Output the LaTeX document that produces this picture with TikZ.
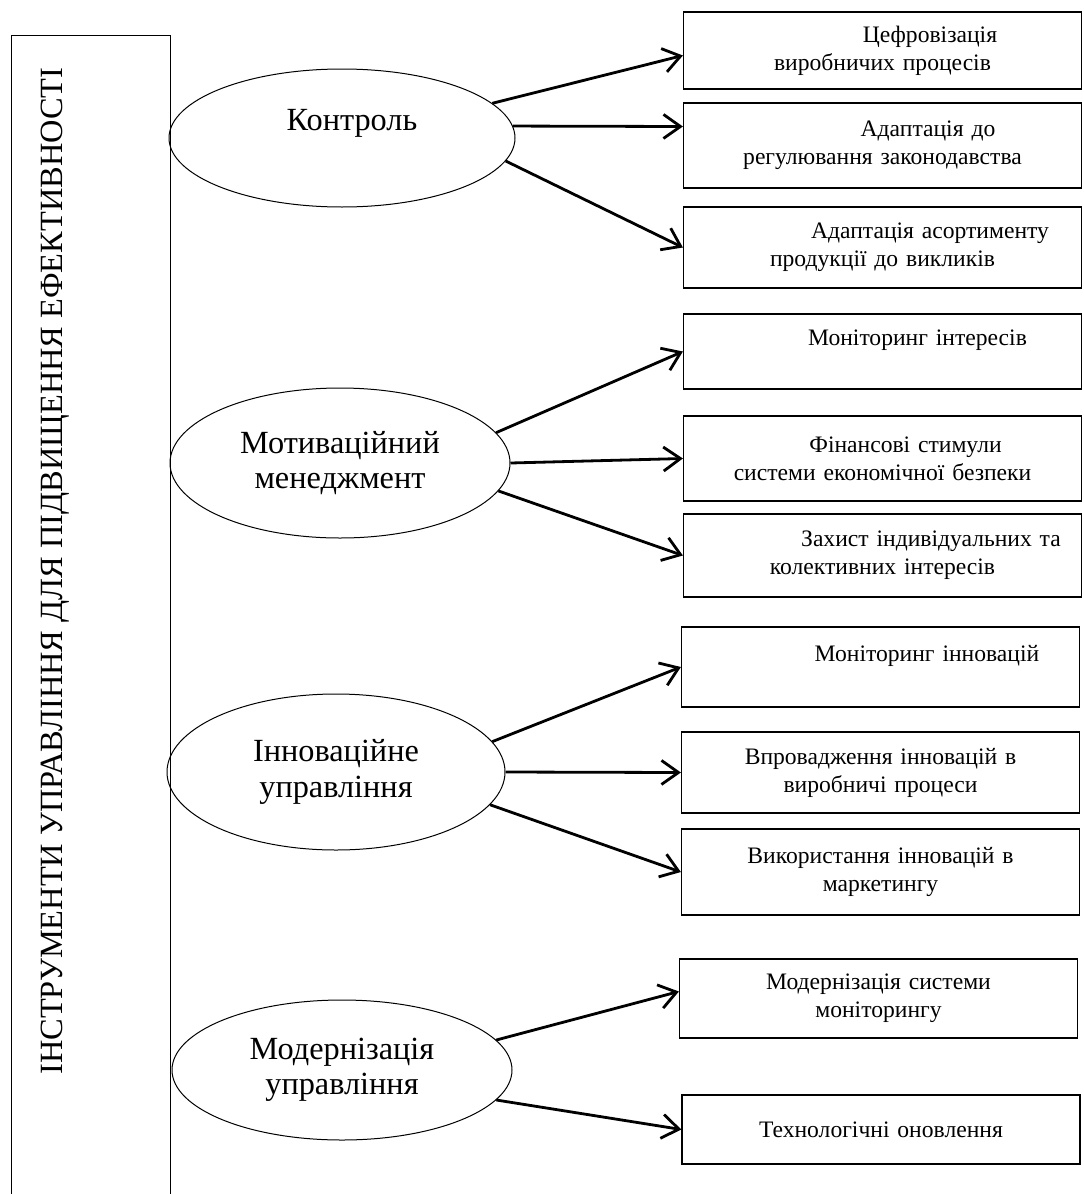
\documentclass[tikz,border=0pt]{standalone}
\usepackage{fontspec}
\setmainfont{Liberation Serif}
\usetikzlibrary{arrows.meta, shapes.geometric}

\begin{document}
\begin{tikzpicture}[x=1pt, y=-1pt,
	topic/.style={draw, ellipse, line width=1pt, align=center, inner sep=0pt, font=\fontsize{32.3}{35.5}\selectfont},
	item/.style={draw, rectangle, line width=1.2pt, minimum width=398pt, minimum height=80pt, text width=384pt, inner sep=0pt, align=center, font=\fontsize{23.6}{28}\selectfont},
	link/.style={-{Straight Barb[length=17pt, width=24pt]}, line width=2.8pt}]
\useasboundingbox (0,0) rectangle (1084,1194);

% Draw frame and title
\node[draw, line width=1.2pt, minimum width=159pt, minimum height=1220pt, anchor=north west] (frame) at (11,35) {};
\node[rotate=90, anchor=base, font=\fontsize{32.4}{36}\selectfont] (title) at (62,571) {ІНСТРУМЕНТИ УПРАВЛІННЯ ДЛЯ ПІДВИЩЕННЯ ЕФЕКТИВНОСТІ};

% Draw ellipses
\node[topic, minimum width=346pt, minimum height=138pt] (ctrl) at (342,138) {\hspace*{20pt}Контроль\\\mbox{}};
\node[topic, minimum width=340pt, minimum height=150pt] (motiv) at (340,463) {Мотиваційний\\менеджмент};
\node[topic, minimum width=338pt, minimum height=156pt] (innov) at (336,772) {Інноваційне\\управління};
\node[topic, minimum width=340pt, minimum height=140pt] (modern) at (342,1070) {Модернізація\\управління};

% Draw boxes
\node[item, minimum height=77pt] (digit) at (882.5,50.5) {\hspace*{95pt}Цефровізація\\виробничих процесів};
\node[item, minimum height=85pt] (law) at (882.5,145.5) {\hspace*{91pt}Адаптація до\\регулювання законодавства};
\node[item, minimum height=81pt] (range) at (882.5,247.5) {\hspace*{95pt}Адаптація асортименту\\продукції до викликів};
\node[item, minimum height=75pt] (monint) at (882.5,351.5) {\hspace*{70pt}Моніторинг інтересів\\\mbox{}};
\node[item, minimum height=85pt] (fin) at (882.5,458.5) {\hspace*{46pt}Фінансові стимули\\системи економічної безпеки};
\node[item, minimum height=83pt] (protect) at (882.5,555.5) {\hspace*{97pt}Захист індивідуальних та\\колективних інтересів};
\node[item, minimum height=80pt] (moninn) at (880.5,667) {\hspace*{93pt}Моніторинг інновацій\\\mbox{}};
\node[item, minimum height=81pt] (impl) at (880.5,772.5) {Впровадження інновацій в\\виробничі процеси};
\node[item, minimum height=86pt] (market) at (880.5,872) {Використання інновацій в\\маркетингу};
\node[item, minimum height=79pt] (sysmon) at (878.5,998.5) {Модернізація системи\\моніторингу};
\node[item, minimum height=69pt] (tech) at (881,1129.5) {Технологічні оновлення};

% Draw arrows
\draw[link] (ctrl.13) -- ([yshift=-5pt]digit.west);
\draw[link] (ctrl.4) -- ([yshift=19pt]law.west);
\draw[link] (ctrl.-8) -- (range.west);
\draw[link] (motiv.11.5) -- (monint.west);
\draw[link] (motiv.0) -- (fin.west);
\draw[link] (motiv.-10.5) -- (protect.west);
\draw[link] (innov.11) -- (moninn.west);
\draw[link] (innov.0.5) -- (impl.west);
\draw[link] (innov.-12) -- (market.west);
\draw[link] (modern.11) -- ([yshift=7pt]sysmon.west);
\draw[link] (modern.-11) -- (tech.west);
\end{tikzpicture}
\end{document}
